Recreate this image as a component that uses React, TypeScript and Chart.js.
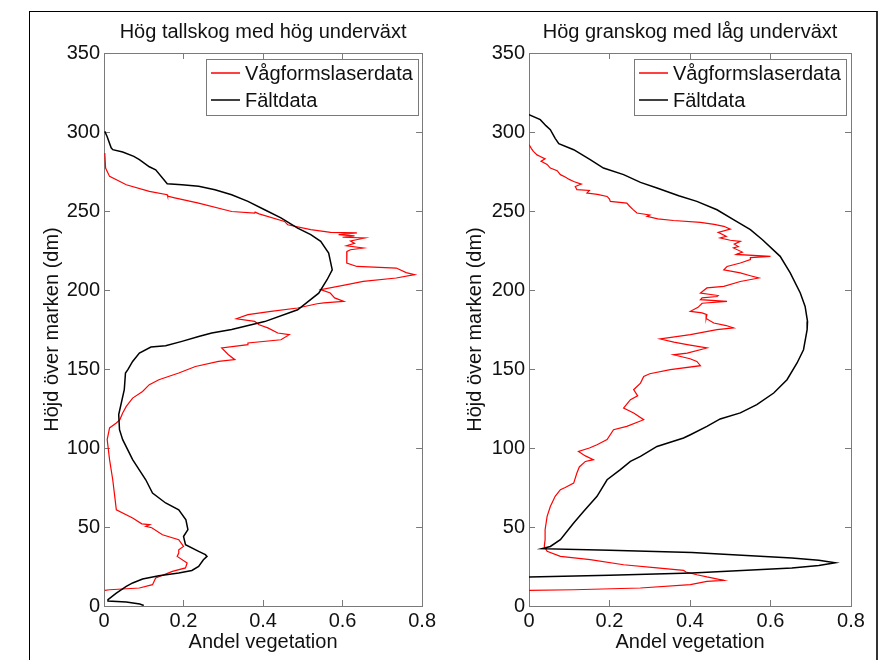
import React, { useEffect, useRef } from 'react';
import { Chart, registerables } from 'chart.js';

Chart.register(...registerables);

const FONT = "'Liberation Sans', Arial, Helvetica, sans-serif";

// ---- labels & ticks ----
const xTicks = [0, 0.2, 0.4, 0.6, 0.8];
const yTicks = [0, 50, 100, 150, 200, 250, 300, 350];
const seriesLabels = ['Vågformslaserdata', 'Fältdata'];
const seriesColors = ['#ff0000', '#000000'];
const leftTitle = 'Hög tallskog med hög underväxt';
const rightTitle = 'Hög granskog med låg underväxt';
const xLabel = 'Andel vegetation';
const yLabel = 'Höjd över marken (dm)';

// ---- left panel: Hög tallskog med hög underväxt ----
const leftRedH = [286.7, 277.2, 276.1, 271.9, 268.7, 266.6, 262.4, 260.3, 259.4, 258.5, 255, 249.7, 248.7, 249.3, 248.2, 243.4, 241.3, 238.2, 236.5, 236.1, 235, 234.2, 233.4, 232.9, 231, 229.5, 228, 226.6, 225.5, 224.4, 220, 217.1, 214.9, 213.9, 211, 209.7, 207.6, 205.4, 203.4, 200.2, 198.1, 195, 192.8, 191.8, 191.3, 188.6, 186.5, 184.4, 181.8, 180.1, 178, 176, 172.8, 171.7, 168.5, 166.5, 165.4, 163.3, 159, 155.9, 154.8, 151.6, 147.5, 143.2, 140.1, 135.8, 131.6, 126.3, 122.2, 118, 115.8, 112.7, 105.3, 92.6, 79.9, 69.4, 60.9, 55.7, 52, 51.5, 50.4, 49.5, 45.1, 42, 37.7, 35.6, 33.5, 31.4, 27.2, 24.1, 21.9, 17.7, 13.5, 11.4, 10.3, 9.9];
const leftRedV = [0.002, 0.004, 0.006, 0.014, 0.04, 0.056, 0.114, 0.159, 0.16, 0.175, 0.238, 0.321, 0.379, 0.38, 0.39, 0.454, 0.462, 0.52, 0.57, 0.636, 0.59, 0.63, 0.6, 0.656, 0.62, 0.63, 0.61, 0.652, 0.62, 0.611, 0.61, 0.611, 0.636, 0.735, 0.76, 0.781, 0.735, 0.652, 0.611, 0.545, 0.569, 0.58, 0.603, 0.553, 0.536, 0.487, 0.42, 0.362, 0.333, 0.379, 0.39, 0.412, 0.437, 0.466, 0.445, 0.362, 0.362, 0.296, 0.313, 0.329, 0.288, 0.23, 0.188, 0.138, 0.114, 0.097, 0.072, 0.056, 0.047, 0.04, 0.031, 0.014, 0.008, 0.014, 0.022, 0.027, 0.031, 0.072, 0.095, 0.115, 0.105, 0.12, 0.147, 0.188, 0.2, 0.188, 0.188, 0.184, 0.209, 0.205, 0.172, 0.13, 0.122, 0.089, 0.014, 0.002];
const leftBlackH = [300.4, 297, 290, 288.8, 287.3, 284.6, 282.5, 278, 276.1, 267.3, 266.6, 265.6, 263.5, 260.3, 256.1, 250.8, 245.6, 239.2, 235, 230.8, 223.4, 212.8, 206.5, 198, 187.5, 180, 175, 172.8, 170.6, 167.5, 164.7, 163.9, 160.1, 154.8, 149.6, 147.5, 136.9, 121.1, 111.6, 105.3, 92.6, 79.9, 71.5, 65.2, 60.9, 54.6, 48.3, 44, 38.8, 34.6, 32.5, 31.4, 29.3, 25.1, 22.5, 20.9, 19.2, 17.1, 14.6, 12.4, 8.2, 4, 3.2, 2.6, 1.2, 0.3];
const leftBlackV = [0.002, 0.008, 0.018, 0.022, 0.047, 0.075, 0.089, 0.114, 0.13, 0.159, 0.196, 0.238, 0.279, 0.321, 0.362, 0.404, 0.445, 0.487, 0.52, 0.545, 0.565, 0.574, 0.561, 0.54, 0.487, 0.404, 0.321, 0.271, 0.238, 0.196, 0.155, 0.118, 0.089, 0.072, 0.06, 0.054, 0.051, 0.037, 0.039, 0.047, 0.072, 0.105, 0.122, 0.155, 0.188, 0.206, 0.211, 0.2, 0.205, 0.238, 0.255, 0.259, 0.25, 0.238, 0.221, 0.188, 0.138, 0.097, 0.072, 0.056, 0.031, 0.01, 0.01, 0.056, 0.09, 0.1];

// ---- right panel: Hög granskog med låg underväxt ----
const rightRedH = [292, 289.5, 287.7, 285.5, 284.5, 283, 281.5, 279.5, 277.2, 275.5, 273, 271.5, 270, 268.7, 267, 265.5, 263.5, 263, 261.4, 260.5, 259.2, 257.5, 256.1, 255, 253, 251, 248.7, 247.5, 246.6, 245, 244, 242.8, 241.5, 240.3, 238.5, 236.5, 234, 232.9, 231.5, 230.8, 229, 227.5, 226.6, 224, 222.5, 221.3, 220.5, 219.2, 217.1, 214.9, 212.8, 210.8, 209, 207.6, 205.4, 202.3, 201.3, 198.1, 196.5, 195.9, 195, 193.9, 192.8, 191.6, 189, 186.5, 185.5, 184.4, 182, 179.1, 177.5, 176, 174.9, 171.7, 169, 167, 165.4, 163.3, 160.1, 159, 156.5, 154.8, 152.1, 149.6, 147, 145.3, 141.1, 136.9, 133, 130.6, 125.3, 122.2, 117.9, 113.7, 111.6, 105.3, 102.1, 100, 97.8, 95, 92.6, 91.5, 88, 84.2, 77.8, 75, 73.6, 69.4, 63, 56.7, 48.3, 42, 37.7, 34.6, 31.4, 29.3, 26.1, 24.1, 22.5, 21.5, 19.8, 18.4, 17.5, 16.2, 15.6, 13.5, 11.4, 10.3, 9.9];
const rightRedV = [0, 0.006, 0.011, 0.02, 0.028, 0.04, 0.03, 0.045, 0.053, 0.07, 0.078, 0.09, 0.1, 0.111, 0.13, 0.115, 0.119, 0.15, 0.144, 0.17, 0.194, 0.2, 0.202, 0.243, 0.25, 0.258, 0.268, 0.3, 0.293, 0.32, 0.359, 0.426, 0.46, 0.484, 0.5, 0.47, 0.49, 0.475, 0.5, 0.525, 0.51, 0.52, 0.508, 0.53, 0.515, 0.6, 0.55, 0.55, 0.525, 0.492, 0.484, 0.525, 0.55, 0.571, 0.525, 0.484, 0.442, 0.426, 0.47, 0.467, 0.43, 0.426, 0.492, 0.43, 0.42, 0.401, 0.43, 0.442, 0.44, 0.459, 0.49, 0.508, 0.467, 0.401, 0.326, 0.36, 0.393, 0.442, 0.393, 0.359, 0.4, 0.417, 0.426, 0.351, 0.3, 0.285, 0.277, 0.26, 0.27, 0.252, 0.235, 0.26, 0.285, 0.243, 0.21, 0.194, 0.169, 0.15, 0.123, 0.14, 0.16, 0.14, 0.125, 0.119, 0.111, 0.09, 0.078, 0.065, 0.053, 0.045, 0.04, 0.04, 0.038, 0.045, 0.078, 0.152, 0.235, 0.318, 0.384, 0.39, 0.417, 0.442, 0.46, 0.484, 0.442, 0.401, 0.277, 0.111, 0];
const rightBlackH = [311, 307.8, 304, 301.5, 296, 292.6, 288.8, 282.5, 277.2, 273, 268.1, 264.6, 259.7, 256.1, 250.8, 244.5, 238.2, 231.8, 221.3, 210.8, 198.1, 189.6, 180, 174.9, 162.2, 153.8, 143.2, 134.8, 127.4, 122.2, 118.4, 113.7, 108.4, 106.3, 101, 94.7, 91.5, 86.3, 79.9, 69.4, 59.9, 52.5, 42, 37.7, 36.3, 35.3, 33.9, 30.4, 29, 27.4, 25.6, 24.1, 20.9, 19.4, 18.4];
const rightBlackV = [0, 0.028, 0.042, 0.053, 0.065, 0.074, 0.111, 0.152, 0.185, 0.235, 0.277, 0.318, 0.372, 0.417, 0.467, 0.508, 0.55, 0.58, 0.624, 0.649, 0.674, 0.686, 0.692, 0.691, 0.682, 0.666, 0.641, 0.608, 0.566, 0.525, 0.475, 0.442, 0.401, 0.384, 0.318, 0.277, 0.252, 0.227, 0.194, 0.169, 0.136, 0.111, 0.078, 0.053, 0.032, 0.2, 0.405, 0.653, 0.72, 0.761, 0.72, 0.653, 0.405, 0.2, 0];

const toPoints = (hs: number[], vs: number[]) => hs.map((h, i) => ({ x: vs[i], y: h }));

const AXIS_GRAY = '#7a7a7a';
const TEXT = '#111111';

const boxLegend = {
  id: 'boxLegend',
  afterDatasetsDraw(chart: any, _args: any, opts: any) {
    const { ctx, chartArea } = chart;
    ctx.save();
    ctx.font = `20px ${FONT}`;
    const names: string[] = opts.labels;
    const colors: string[] = opts.colors;
    const tw = Math.max(...names.map((n) => ctx.measureText(n).width));
    const w = Math.round(5 + 29 + 5 + tw + 5);
    const h = 56;
    const right = Math.round(chartArea.right - opts.rightGap);
    const left = right - w;
    const top = Math.round(chartArea.top + 6);
    ctx.fillStyle = '#ffffff';
    ctx.fillRect(left, top, w, h);
    ctx.strokeStyle = AXIS_GRAY;
    ctx.lineWidth = 1;
    ctx.strokeRect(left + 0.5, top + 0.5, w, h);
    names.forEach((name, i) => {
      const cy = top + 14 + i * 27;
      ctx.strokeStyle = colors[i];
      ctx.lineWidth = 1.5;
      ctx.beginPath();
      ctx.moveTo(left + 5, cy);
      ctx.lineTo(left + 34, cy);
      ctx.stroke();
      ctx.fillStyle = TEXT;
      ctx.textBaseline = 'middle';
      ctx.textAlign = 'left';
      ctx.fillText(name, left + 39, cy + 1);
    });
    ctx.restore();
  },
};

function makeConfig(p: {
  canvasWidth: number;
  areaLeft: number;
  areaRight: number;
  yTitlePad: number;
  title: string;
  redH: number[];
  redV: number[];
  blackH: number[];
  blackV: number[];
  legendGap: number;
}): any {
  const font = { family: FONT, size: 20, weight: 'normal' as const };
  const grid = {
    display: true,
    drawOnChartArea: false,
    drawTicks: true,
    tickLength: -6,
    color: AXIS_GRAY,
    lineWidth: 1,
  };
  const border = { display: true, color: AXIS_GRAY, width: 1 };
  const setX = (s: any) => {
    s.ticks = xTicks.map((v) => ({ value: v }));
  };
  const setY = (s: any) => {
    s.ticks = yTicks.map((v) => ({ value: v }));
  };
  return {
    type: 'scatter',
    data: {
      datasets: [
        {
          label: seriesLabels[0],
          data: toPoints(p.redH, p.redV),
          borderColor: seriesColors[0],
          backgroundColor: seriesColors[0],
          showLine: true,
          pointRadius: 0,
          borderWidth: 1.2,
          order: 1,
        },
        {
          label: seriesLabels[1],
          data: toPoints(p.blackH, p.blackV),
          borderColor: seriesColors[1],
          backgroundColor: seriesColors[1],
          showLine: true,
          pointRadius: 0,
          borderWidth: 1.5,
          order: 0,
        },
      ],
    },
    options: {
      animation: false,
      responsive: false,
      events: [],
      layout: { padding: { left: 0, right: p.canvasWidth - p.areaRight, top: 0, bottom: 0 } },
      plugins: {
        legend: { display: false },
        tooltip: { enabled: false },
        title: {
          display: true,
          text: p.title,
          fullSize: false,
          color: TEXT,
          font,
          padding: { top: 20, bottom: 9 },
        },
        boxLegend: { labels: seriesLabels, colors: seriesColors, rightGap: p.legendGap },
      },
      scales: {
        x: {
          type: 'linear',
          position: 'bottom',
          min: 0,
          max: 0.8,
          afterBuildTicks: setX,
          ticks: { padding: 9, color: TEXT, font, callback: (v: number) => String(v) },
          grid,
          border,
          title: { display: true, text: xLabel, color: TEXT, font, padding: { top: 0, bottom: 6 } },
          afterFit: (s: any) => {
            s.height = 54;
          },
        },
        x2: {
          type: 'linear',
          position: 'top',
          min: 0,
          max: 0.8,
          afterBuildTicks: setX,
          ticks: { display: false },
          grid,
          border,
          afterFit: (s: any) => {
            s.height = 0;
          },
        },
        y: {
          type: 'linear',
          position: 'left',
          min: 0,
          max: 350,
          afterBuildTicks: setY,
          ticks: { padding: 10, color: TEXT, font, callback: (v: number) => String(v) },
          grid,
          border,
          title: { display: true, text: yLabel, color: TEXT, font, padding: { top: p.yTitlePad, bottom: 0 } },
          afterFit: (s: any) => {
            s.width = p.areaLeft;
          },
        },
        y2: {
          type: 'linear',
          position: 'right',
          min: 0,
          max: 350,
          afterBuildTicks: setY,
          ticks: { display: false },
          grid,
          border,
          afterFit: (s: any) => {
            s.width = 0;
          },
        },
      },
    },
    plugins: [boxLegend],
  };
}

function Panel(props: { left: number; width: number; cfg: any }) {
  const ref = useRef<HTMLCanvasElement>(null);
  useEffect(() => {
    if (!ref.current) return;
    const chart = new Chart(ref.current, props.cfg);
    return () => chart.destroy();
  }, []);
  return (
    <canvas
      ref={ref}
      width={props.width}
      height={660}
      style={{ position: 'absolute', left: props.left, top: 0, width: props.width, height: 660 }}
    />
  );
}

export default function App() {
  const leftCfg = makeConfig({
    canvasWidth: 445,
    areaLeft: 104,
    areaRight: 426,
    yTitlePad: 40,
    title: leftTitle,
    redH: leftRedH,
    redV: leftRedV,
    blackH: leftBlackH,
    blackV: leftBlackV,
    legendGap: 4,
  });
  const rightCfg = makeConfig({
    canvasWidth: 446,
    areaLeft: 84,
    areaRight: 406,
    yTitlePad: 18,
    title: rightTitle,
    redH: rightRedH,
    redV: rightRedV,
    blackH: rightBlackH,
    blackV: rightBlackV,
    legendGap: 5,
  });
  return (
    <div
      style={{
        position: 'absolute',
        left: 0,
        top: 0,
        width: 891,
        height: 660,
        overflow: 'hidden',
        background: '#ffffff',
      }}
    >
      <div
        style={{
          position: 'absolute',
          left: 29,
          top: 11,
          width: 849,
          height: 700,
          boxSizing: 'border-box',
          borderLeft: '1px solid #000',
          borderTop: '1px solid #000',
          borderRight: '2px solid #333',
        }}
      />
      <Panel left={0} width={445} cfg={leftCfg} />
      <Panel left={445} width={446} cfg={rightCfg} />
    </div>
  );
}
